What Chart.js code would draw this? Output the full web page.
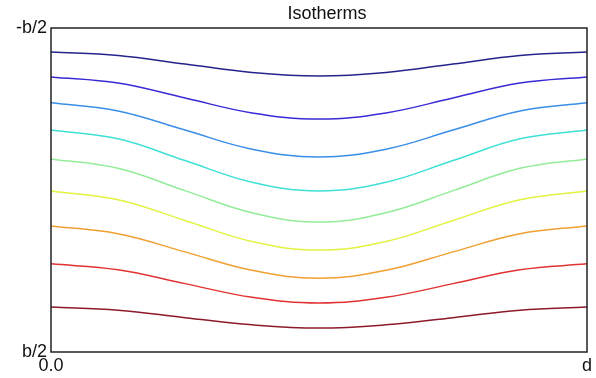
<!DOCTYPE html>
<html>
<head>
<meta charset="utf-8">
<script src="https://cdn.jsdelivr.net/npm/chart.js@4.4.0/dist/chart.umd.min.js"></script>
<style>
  html, body { margin: 0; padding: 0; background: #fff; }
  #wrap { width: 596px; height: 378px; }
</style>
</head>
<body>
<div id="wrap"><canvas id="iso"></canvas></div>
<script>
// positions across the slab (0 .. d)
const xPos = [0, 0.125, 0.25, 0.375, 0.5, 0.625, 0.75, 0.875, 1];

// isotherm heights (-0.5 = -b/2 top, 0.5 = b/2 bottom)
const iso1 = [-0.426, -0.415, -0.389, -0.363, -0.352, -0.363, -0.389, -0.415, -0.426];
const iso2 = [-0.349, -0.330, -0.284, -0.238, -0.219, -0.238, -0.284, -0.330, -0.349];
const iso3 = [-0.269, -0.244, -0.185, -0.126, -0.102, -0.126, -0.185, -0.244, -0.269];
const iso4 = [-0.185, -0.158, -0.091, -0.024, 0.003, -0.024, -0.091, -0.158, -0.185];
const iso5 = [-0.096, -0.067, 0.002, 0.070, 0.099, 0.070, 0.002, -0.067, -0.096];
const iso6 = [0.003, 0.030, 0.094, 0.159, 0.185, 0.159, 0.094, 0.030, 0.003];
const iso7 = [0.111, 0.135, 0.191, 0.248, 0.272, 0.248, 0.191, 0.135, 0.111];
const iso8 = [0.228, 0.246, 0.289, 0.331, 0.349, 0.331, 0.289, 0.246, 0.228];
const iso9 = [0.361, 0.371, 0.394, 0.416, 0.426, 0.416, 0.394, 0.371, 0.361];

const allIso = [iso1, iso2, iso3, iso4, iso5, iso6, iso7, iso8, iso9];
const colors = ["#24248c", "#3a2ad6", "#3a8ee8", "#3fe0d6", "#92ec98",
                "#e2f240", "#f0a032", "#e23232", "#8c1a2a"];

const xTicks = { 0: "0.0", 1: "d" };
const yTicks = { "-0.5": "-b/2", "0.5": "b/2" };
const title = "Isotherms";

const font = { family: "'Liberation Sans', Arial, sans-serif", size: 18 };

// box around the plot + title (title sits a bit right of centre in the original)
const frame = {
  id: "frame",
  afterDraw(chart) {
    const a = chart.chartArea, c = chart.ctx;
    c.save();
    c.strokeStyle = "#222";
    c.lineWidth = 1.5;
    c.strokeRect(a.left, a.top, a.right - a.left, a.bottom - a.top);
    c.fillStyle = "#111";
    c.font = "18px 'Liberation Sans', Arial, sans-serif";
    c.textAlign = "center";
    c.textBaseline = "middle";
    c.fillText(title, 327, 14);
    c.restore();
  }
};

new Chart(document.getElementById("iso"), {
  type: "line",
  data: {
    datasets: allIso.map((ys, i) => ({
      data: ys.map((y, j) => ({ x: xPos[j], y: y })),
      borderColor: colors[i],
      borderWidth: 1.5,
      pointRadius: 0,
      tension: 0.4,
      fill: false
    }))
  },
  options: {
    responsive: true,
    maintainAspectRatio: false,
    animation: false,
    layout: { padding: { left: 0, right: 9, top: 28, bottom: 0 } },
    plugins: {
      legend: { display: false },
      tooltip: { enabled: false },
      title: { display: false }
    },
    scales: {
      x: {
        type: "linear",
        min: 0,
        max: 1,
        grid: { display: false, drawTicks: false },
        border: { display: false },
        afterBuildTicks: s => { s.ticks = [{ value: 0 }, { value: 1 }]; },
        afterFit: s => { s.height = 26; },
        ticks: {
          color: "#111",
          font: font,
          padding: 3,
          maxRotation: 0,
          callback: v => xTicks[v]
        }
      },
      y: {
        type: "linear",
        min: -0.5,
        max: 0.5,
        reverse: true,
        grid: { display: false, drawTicks: false },
        border: { display: false },
        afterBuildTicks: s => { s.ticks = [{ value: -0.5 }, { value: 0.5 }]; },
        afterFit: s => { s.width = 51; },
        ticks: {
          color: "#111",
          font: font,
          padding: 4,
          callback: v => yTicks[String(v)]
        }
      }
    }
  },
  plugins: [frame]
});
</script>
</body>
</html>
